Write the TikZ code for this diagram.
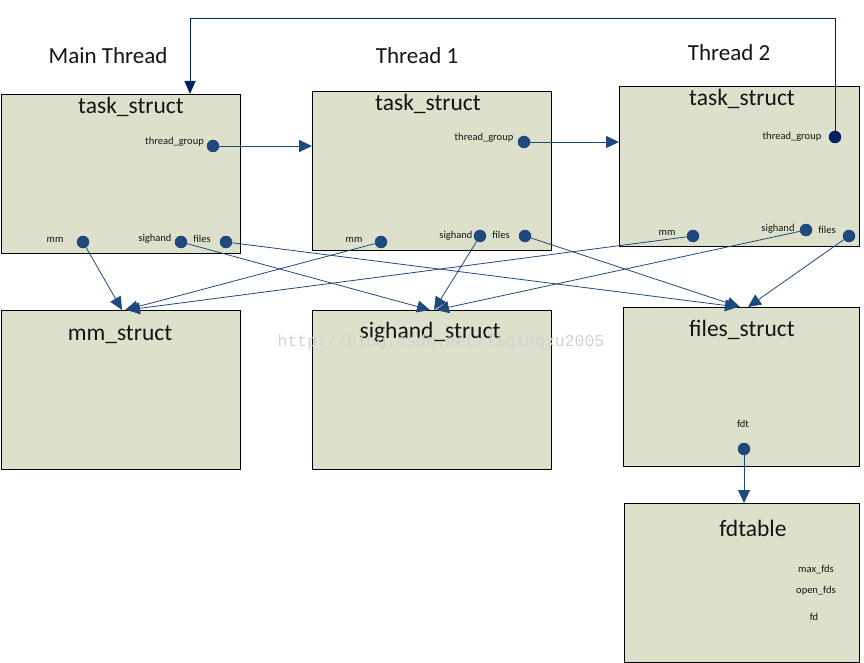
\documentclass[tikz,border=0pt]{standalone}
\usepackage{fontspec}
\setmainfont{Carlito}
\newfontfamily\wmfont{Liberation Mono}
\usetikzlibrary{arrows.meta}
\definecolor{boxfill}{RGB}{221,225,204}
\definecolor{lnk}{RGB}{31,73,125}
\definecolor{navyln}{RGB}{0,32,96}
\definecolor{txt}{RGB}{20,20,20}
\begin{document}
\begin{tikzpicture}[x=1pt,y=-1pt,
  structbox/.style={draw=black, line width=1pt, fill=boxfill, inner sep=0pt, anchor=north west, minimum width=239pt, minimum height=159pt},
  head/.style={font=\fontsize{23}{26}\selectfont, text=txt, inner sep=0pt},
  ttl/.style={font=\fontsize{23.5}{26}\selectfont, text=txt, inner sep=0pt},
  fld/.style={font=\fontsize{10.5}{12}\selectfont, text=txt, inner sep=0pt},
  dot/.style={circle, fill=lnk, inner sep=0pt, minimum size=12.5pt},
  link/.style={draw=lnk, line width=0.8pt, -{Triangle[length=13pt,width=12pt]}},
  navylink/.style={draw=navyln, line width=0.9pt, -{Triangle[length=13pt,width=11pt]}}
]
\useasboundingbox (0,0) rectangle (864,663);

% headings
\node[head] (hmain) at (108,56) {Main Thread};
\node[head] (h1) at (417,56) {Thread 1};
\node[head] (h2) at (729,53) {Thread 2};

% boxes
\node[structbox] (m) at (1,94) {};
\node[structbox] (t1) at (312,91) {};
\node[structbox, minimum width=240pt, minimum height=160pt] (t2) at (619,86) {};
\node[structbox] (mms) at (1,310) {};
\node[structbox] (shs) at (312,310) {};
\node[structbox, minimum width=236pt] (fis) at (623,307) {};
\node[structbox, minimum width=235pt] (fdtb) at (624,503) {};

% titles
\node[ttl] (mt) at (131,107) {task\_struct};
\node[ttl] (t1t) at (428,104) {task\_struct};
\node[ttl] (t2t) at (742,99) {task\_struct};
\node[ttl] (mmst) at (120,335) {mm\_struct};
\node[ttl] (shst) at (430,332) {sighand\_struct};
\node[ttl] (fist) at (742,330) {files\_struct};
\node[ttl] (fdtt) at (753,528) {fdtable};

% field labels
\node[fld, anchor=east] (m-tgl) at (204,142) {thread\_group};
\node[fld] (m-mml) at (55,240) {mm};
\node[fld] (m-shl) at (155,239) {sighand};
\node[fld] (m-fil) at (202,239) {files};
\node[fld] (t1-tgl) at (484,138) {thread\_group};
\node[fld] (t1-mml) at (354,240) {mm};
\node[fld] (t1-shl) at (456,236) {sighand};
\node[fld] (t1-fil) at (501,235) {files};
\node[fld] (t2-tgl) at (792,137) {thread\_group};
\node[fld] (t2-mml) at (667,233) {mm};
\node[fld] (t2-shl) at (778,229) {sighand};
\node[fld] (t2-fil) at (827,230) {files};
\node[fld] (fdtl) at (743,424) {fdt};
\node[fld] (maxl) at (816,570) {max\_fds};
\node[fld] (openl) at (816,591) {open\_fds};
\node[fld] (fdl) at (814,617) {fd};

% dots
\node[dot] (m-tg) at (213,146) {};
\node[dot] (m-mm) at (83,242) {};
\node[dot] (m-sh) at (181,242) {};
\node[dot] (m-fi) at (226,242) {};
\node[dot] (t1-tg) at (524,142) {};
\node[dot] (t1-mm) at (381,242) {};
\node[dot] (t1-sh) at (480,236) {};
\node[dot] (t1-fi) at (525,236) {};
\node[dot, fill=navyln] (t2-tg) at (835,137) {};
\node[dot] (t2-mm) at (693,236) {};
\node[dot] (t2-sh) at (806,230) {};
\node[dot] (t2-fi) at (849,236) {};
\node[dot] (fdt) at (744,449) {};

% connector end points
\coordinate (t1in) at (312,146);
\coordinate (t2in) at (619,142);
\coordinate (looptl) at (190,18);
\coordinate (mtop) at (190,94);
\coordinate (mmin1) at (122,310);
\coordinate (mmin2) at (125,310);
\coordinate (mmin3) at (127,310);
\coordinate (shin1) at (430,310);
\coordinate (shin2) at (434,310);
\coordinate (shin3) at (436,310);
\coordinate (fiin1) at (738,307);
\coordinate (fiin2) at (740,307);
\coordinate (fiin3) at (748,307);
\coordinate (fdtin) at (744,503);

% connectors
\draw[link] (m-tg) -- (t1in);
\draw[link] (t1-tg) -- (t2in);
\draw[navylink] (t2-tg.center) |- (looptl) -- (mtop);
\draw[link] (m-mm) -- (mmin1);
\draw[link] (t1-mm) -- (mmin2);
\draw[link] (t2-mm) -- (mmin3);
\draw[link] (m-sh) -- (shin1);
\draw[link] (t1-sh) -- (shin2);
\draw[link] (t2-sh) -- (shin3);
\draw[link] (m-fi) -- (fiin1);
\draw[link] (t1-fi) -- (fiin2);
\draw[link] (t2-fi) -- (fiin3);
\draw[link] (fdt) -- (fdtin);

% watermark
\node[font=\wmfont\fontsize{16.5}{18}\selectfont, text=black!18, inner sep=0pt] (wm) at (441,342) {http://blog.csdn.net/liqingxu2005};
\end{tikzpicture}
\end{document}
